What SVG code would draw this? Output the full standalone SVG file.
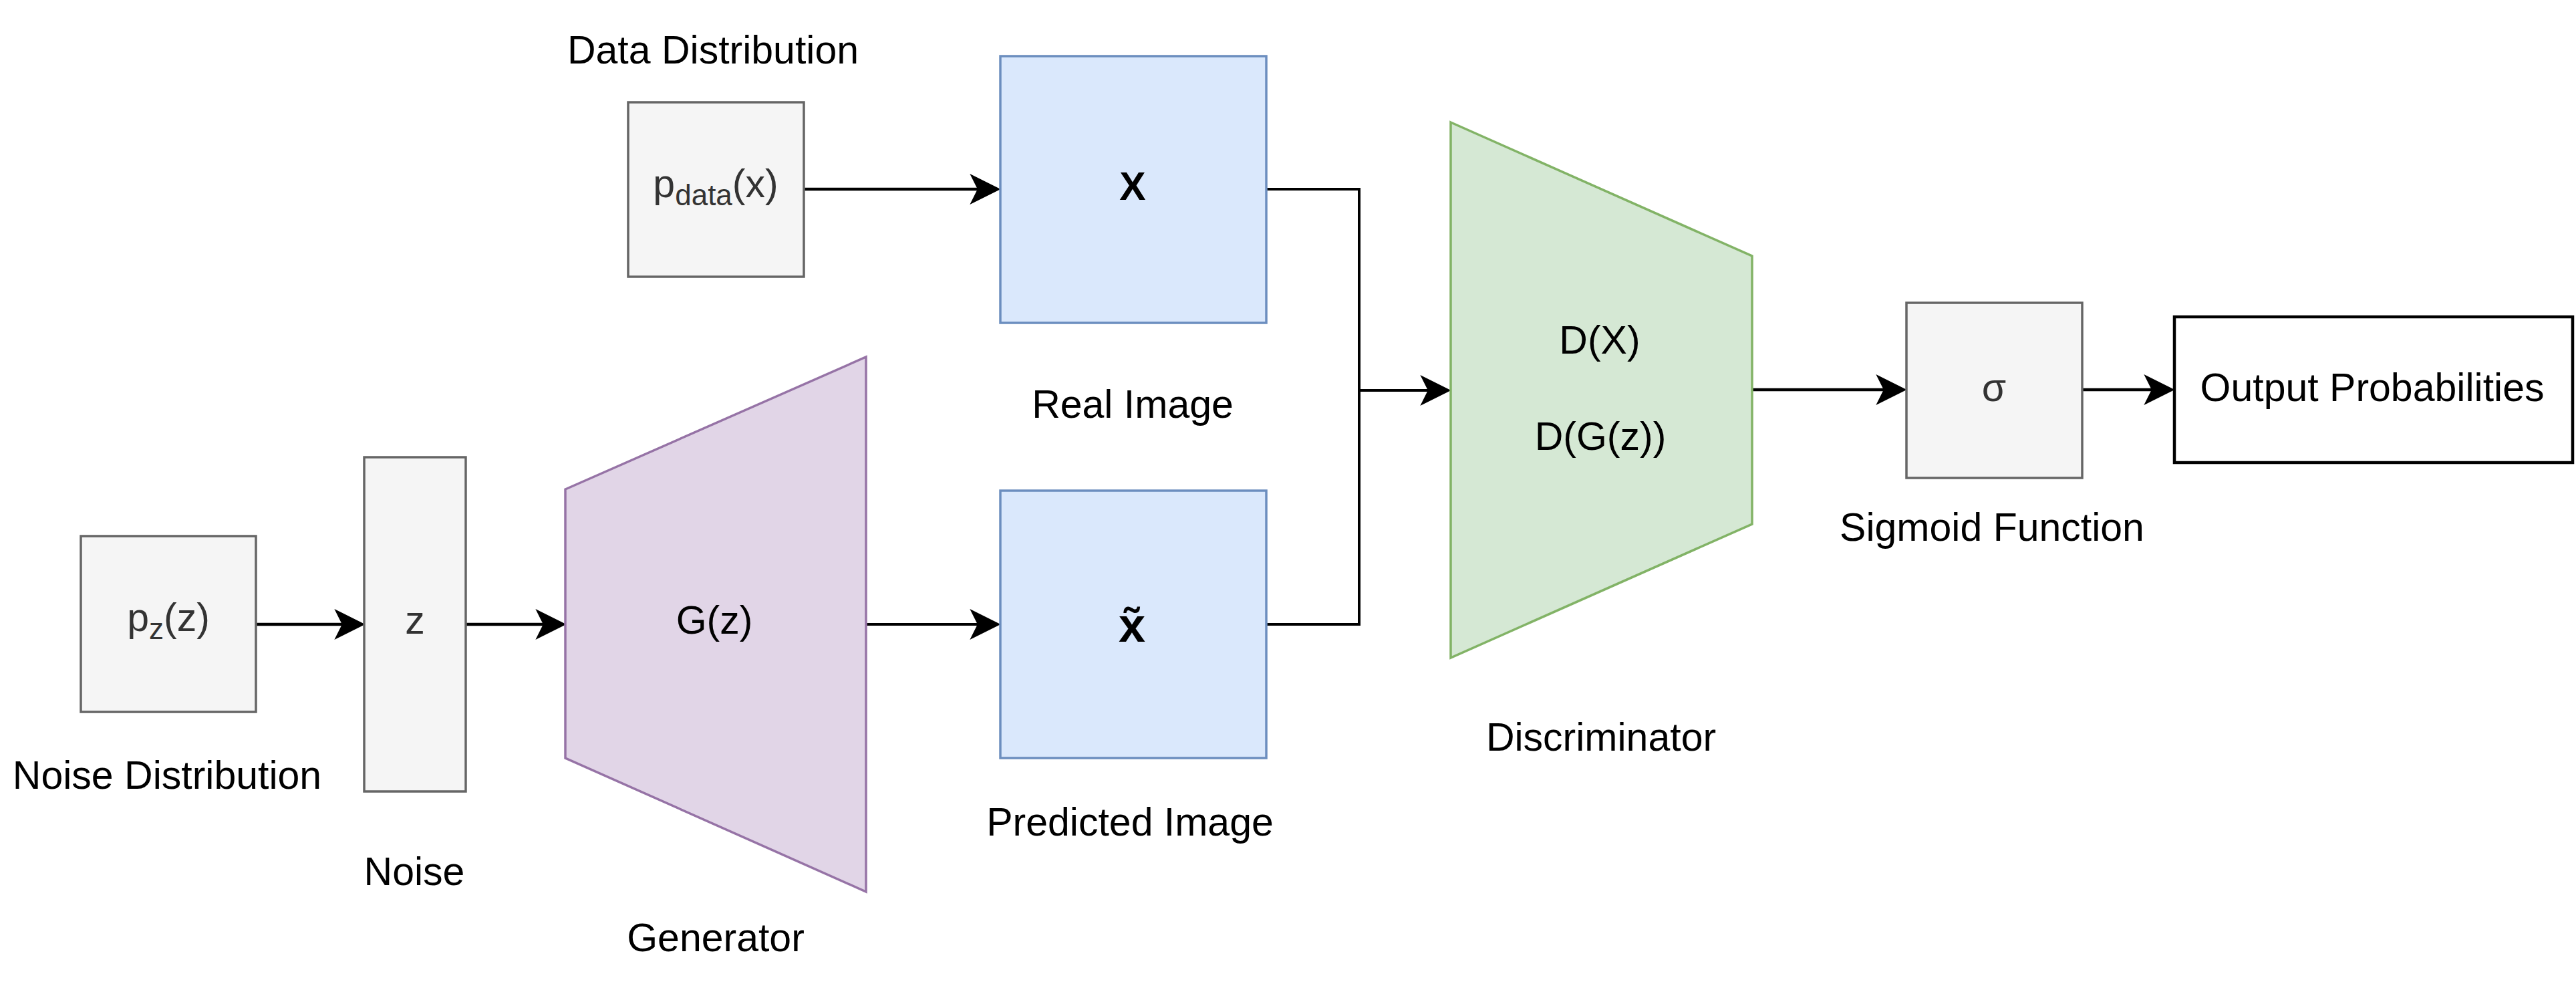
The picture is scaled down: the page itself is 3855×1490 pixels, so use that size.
<svg xmlns="http://www.w3.org/2000/svg" width="3855" height="1490" viewBox="0 0 3855 1490">
<defs>
<style>
text{font-family:"Liberation Sans",Arial,Helvetica,sans-serif;font-size:59px;fill:#000;text-anchor:middle}
.in{fill:#333333}
.big{font-size:72px;font-weight:bold}
.sub{font-size:44px}
.gray{fill:#f5f5f5;stroke:#666666;stroke-width:3.5}
.blue{fill:#dae8fc;stroke:#6c8ebf;stroke-width:3.5}
.purple{fill:#e1d5e7;stroke:#9673a6;stroke-width:3.5}
.green{fill:#d5e8d4;stroke:#82b366;stroke-width:3.5}
.out{fill:#ffffff;stroke:#000000;stroke-width:4.5}
.edge{fill:none;stroke:#000;stroke-width:4.5}
.thin{stroke-width:4}
</style>
<marker id="arr" markerUnits="userSpaceOnUse" markerWidth="46" markerHeight="46" viewBox="0 0 44 44" refX="14" refY="22" orient="auto">
<path d="M0,0 L44,22 L0,44 L11,22 Z" fill="#000"/>
</marker>
</defs>
<rect width="3855" height="1490" fill="#ffffff"/>

<g id="connectors">
<path class="edge" d="M1203,283 H1466" marker-end="url(#arr)"/>
<path class="edge thin" d="M1896,283 H2034 V584 H2140" marker-end="url(#arr)"/>
<path class="edge thin" d="M1896,934 H2034 V584"/>
<path class="edge" d="M383,934 H515" marker-end="url(#arr)"/>
<path class="edge" d="M697,934 H816" marker-end="url(#arr)"/>
<path class="edge thin" d="M1296,934 H1466" marker-end="url(#arr)"/>
<path class="edge" d="M2622,583 H2822" marker-end="url(#arr)"/>
<path class="edge" d="M3116,583 H3223" marker-end="url(#arr)"/>
</g>

<g id="data-distribution">
<rect class="gray" x="940" y="153" width="263" height="261"/>
<text class="in" x="1071" y="295">p<tspan class="sub" dy="12">data</tspan><tspan dy="-12">(x)</tspan></text>
<text x="1067" y="95">Data Distribution</text>
</g>

<g id="real-image">
<rect class="blue" x="1497" y="84" width="398" height="399"/>
<text x="1695" y="299" font-weight="bold">X</text>
<text x="1695" y="625">Real Image</text>
</g>

<g id="noise-distribution">
<rect class="gray" x="121" y="802" width="262" height="263"/>
<text class="in" x="252" y="944">p<tspan class="sub" dy="12">z</tspan><tspan dy="-12">(z)</tspan></text>
<text x="250" y="1180">Noise Distribution</text>
</g>

<g id="noise">
<rect class="gray" x="545" y="684" width="152" height="500"/>
<text class="in" x="621" y="948">z</text>
<text x="620" y="1324">Noise</text>
</g>

<g id="generator">
<polygon class="purple" points="846,732 1296,534 1296,1334 846,1134"/>
<text x="1069" y="948">G(z)</text>
<text x="1071" y="1423">Generator</text>
</g>

<g id="predicted-image">
<rect class="blue" x="1497" y="734" width="398" height="400"/>
<text class="big" x="1694" y="960">x̃</text>
<text x="1691" y="1250">Predicted Image</text>
</g>

<g id="discriminator">
<polygon class="green" points="2171,183 2622,383 2622,784 2171,984"/>
<text x="2394" y="529">D(X)</text>
<text x="2395" y="673">D(G(z))</text>
<text x="2396" y="1123">Discriminator</text>
</g>

<g id="sigmoid">
<rect class="gray" x="2853" y="453" width="263" height="262"/>
<text class="in" x="2984" y="600">σ</text>
<text x="2981" y="809">Sigmoid Function</text>
</g>

<g id="output">
<rect class="out" x="3254" y="474" width="596" height="218"/>
<text x="3550" y="600">Output Probabilities</text>
</g>
</svg>
